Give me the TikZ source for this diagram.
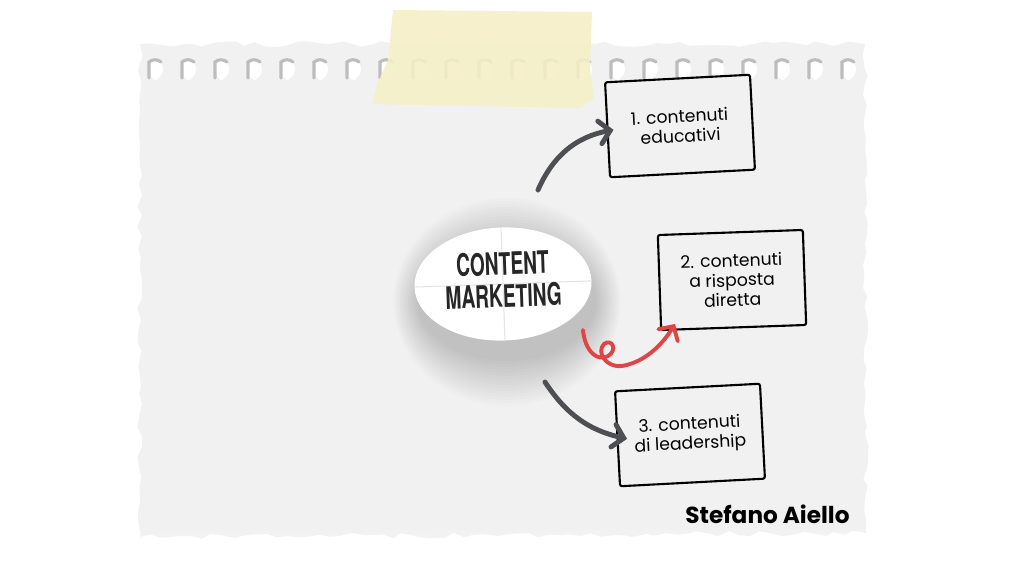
\documentclass[tikz,border=0pt]{standalone}
\usepackage{fontspec}
\usepackage{xcolor}
\usepackage{tikz}
\usetikzlibrary{arrows.meta,positioning,shapes.geometric,decorations.pathmorphing}
\newfontfamily\handfont{Poppins}
\newfontfamily\headfont[FakeStretch=0.62]{TeX Gyre Heros}

\begin{document}
\begin{tikzpicture}[x=0.01cm,y=-0.01cm,
  card/.style={draw=black,line width=0.6pt,rounded corners=0.6pt,fill=paper,
    minimum width=1.45cm,minimum height=0.95cm,inner sep=1pt,align=center,
    font=\handfont\fontsize{4.9}{5.6}\selectfont},
  greyarrow/.style={draw=ink,line width=1.4pt,line cap=round,
    -{Straight Barb[length=3pt,width=6.5pt,line cap=round]}},
  redarrow/.style={draw=loopred,line width=1.1pt,line cap=round,
    -{Straight Barb[length=3pt,width=6.5pt,line cap=round]}},
  torn/.style={decorate,decoration={random steps,segment length=3pt,amplitude=0.8pt}}]
\definecolor{paper}{HTML}{F1F1F1}
\definecolor{ink}{HTML}{4D4F52}
\definecolor{loopred}{HTML}{E04444}
\definecolor{tape}{HTML}{F5F0C6}
\definecolor{hole}{HTML}{BDBDBD}
\useasboundingbox (0,0) rectangle (1024,576);
\fill[white] (0,0) rectangle (1024,576);

% sheet
\fill[black,opacity=0.05,torn] (140,520) -- (866,518) -- (866,533) -- (140,537) -- cycle;
\fill[paper,torn] (140,44) -- (865,44) -- (866,528) -- (140,532) -- cycle;
\foreach \x in {148,181,...,850} {
  \fill[white,rounded corners=3pt] (\x,58) rectangle (\x+15,80);
  \draw[hole,line width=0.9pt,line cap=round] (\x+1,78) -- (\x+1,62) to[bend left=40] (\x+13,62);
}

% tape
\fill[tape,opacity=0.88] (393,10) -- (592,12) -- (590,70) -- (594,98) -- (580,108) -- (372,104) -- (378,82) -- (388,60) -- cycle;

% central label
\foreach \r in {1,...,16} {
  \fill[black,opacity=0.011] (507,302) ellipse ({88+1.6*\r} and {56+3*\r});
}
\node[ellipse,fill=white,minimum width=1.77cm,minimum height=1.13cm,rotate=2] (cm) at (503,284) {};
\draw[black!10,line width=0.3pt] (cm.west) -- (cm.east);
\draw[black!10,line width=0.3pt] (cm.north) -- (cm.south);
\node[align=center,text=black!85,rotate=2,
  font=\headfont\bfseries\fontsize{8.8}{9.2}\selectfont] (cmtext) at (503,280) {CONTENT\\MARKETING};

% boxes
\node[card,rotate=3] (b1) at (680,126) {1. contenuti\\educativi};
\node[card,rotate=2] (b2) at (732,280) {2. contenuti\\a risposta\\diretta};
\node[card,rotate=3] (b3) at (690,435) {3. contenuti\\di leadership};

% arrows
\coordinate (s1) at (538,190);
\coordinate (s3) at (545,382);
\coordinate (s2) at (583,330);
\coordinate (e2) at (675,324);
\draw[greyarrow] (s1) to[bend left=28] ([xshift=2pt]b1.west);
\draw[greyarrow] (s3) to[bend right=22] ([xshift=3pt]b3.west);
\draw[redarrow] (s2) .. controls (585,352) and (598,362) .. (608,356)
  .. controls (618,350) and (612,338) .. (604,344)
  .. controls (596,352) and (606,368) .. (622,366)
  .. controls (645,362) and (662,345) .. (e2);

\node[font=\handfont\bfseries\fontsize{6.6}{7}\selectfont,anchor=east] (sign) at (862,514) {Stefano Aiello};
\end{tikzpicture}
\end{document}
